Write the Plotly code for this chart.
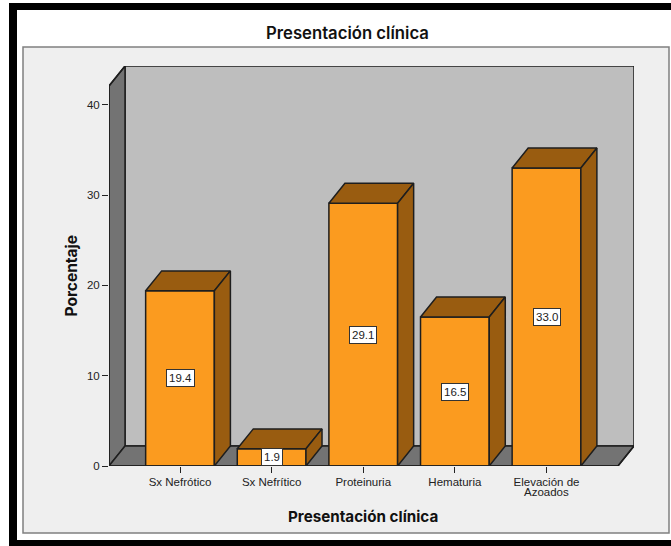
import plotly.graph_objects as go

# Clinical presentation percentages
categories = ["Sx Nefrótico", "Sx Nefrítico", "Proteinuria", "Hematuria", "Elevación de"]
category_second_line = "Azoados"
values = [19.4, 1.9, 29.1, 16.5, 33.0]
y_ticks = [0, 10, 20, 30, 40]

TITLE = "Presentación clínica"
Y_TITLE = "Porcentaje"

W, H = 671, 546
L, R, T, B = 109, 634, 66, 466   # plot area in pixels
X_MIN, X_MAX = -0.775, 4.955
Y_MIN, Y_MAX = 0, 44.3
DX, DY = 0.175, 2.21             # oblique depth in data units
BAR_W = 0.75

ORANGE, BROWN = "#fb9b1f", "#995c10"
WALL, SIDE_WALL = "#bebebe", "#737373"
PANEL, EDGE = "#efefef", "#1e1e1e"
FONT = "Liberation Sans"
HEAD_FONT = "Inter"


def px(x):
    return (x - L) / (R - L)


def py(y):
    return (B - y) / (B - T)


def paper_rect(x0, y0, x1, y1, fill, line=None, width=0):
    return dict(type="rect", xref="paper", yref="paper", layer="below",
                x0=px(x0), x1=px(x1), y0=py(y0), y1=py(y1),
                fillcolor=fill, line=dict(color=line or fill, width=width))


def poly(xs, ys):
    path = "M" + " L".join(f"{a},{b}" for a, b in zip(xs, ys)) + " Z"
    return dict(type="path", xref="x", yref="y", layer="below", path=path,
                line=dict(color=EDGE, width=1.5))


front_r = X_MAX - DX
shapes = [
    paper_rect(9, 3, 680, 546, "#000000"),
    paper_rect(17, 10, 680, 540, "#ffffff"),
    paper_rect(23, 47, 669, 533, PANEL, "#808080", 1.5),
]
shapes.append({**poly([X_MIN + DX, X_MAX, X_MAX, X_MIN + DX], [DY, DY, Y_MAX, Y_MAX]), "fillcolor": WALL})
shapes.append({**poly([X_MIN, X_MIN + DX, X_MIN + DX, X_MIN], [0, DY, Y_MAX, Y_MAX - DY]), "fillcolor": SIDE_WALL})
shapes.append({**poly([X_MIN, front_r, X_MAX, X_MIN + DX], [0, 0, DY, DY]), "fillcolor": SIDE_WALL})

fig = go.Figure()

# Front edges of the left wall and floor sit on the plot boundary, so they are drawn unclipped
fig.add_trace(go.Scatter(
    x=[X_MIN + DX, X_MIN, X_MIN, front_r, X_MAX],
    y=[Y_MAX, Y_MAX - DY, 0, 0, DY],
    mode="lines", line=dict(color=EDGE, width=1.5),
    cliponaxis=False, hoverinfo="skip", showlegend=False))

xs = list(range(len(values)))
fig.add_trace(go.Bar(x=xs, y=values, width=BAR_W, marker=dict(color=ORANGE, line=dict(color=EDGE, width=1.5)),
                     showlegend=False, hoverinfo="skip"))

# Top and side faces of each bar
for i, v in zip(xs, values):
    a, b = i - BAR_W / 2, i + BAR_W / 2
    fig.add_trace(go.Scatter(x=[a, b, b + DX, a + DX, a], y=[v, v, v + DY, v + DY, v],
                             mode="lines", fill="toself", fillcolor=BROWN, line=dict(color=EDGE, width=1.5),
                             hoverinfo="skip", showlegend=False))
    fig.add_trace(go.Scatter(x=[b, b + DX, b + DX, b, b], y=[0, DY, v + DY, v, 0],
                             mode="lines", fill="toself", fillcolor=BROWN, line=dict(color=EDGE, width=1.5),
                             hoverinfo="skip", showlegend=False))

annotations = [
    dict(x=i, y=v / 2, xref="x", yref="y", text=f"{v:.1f}", showarrow=False,
         font=dict(family=FONT, size=11.5, color="#222222"), bgcolor="#ffffff",
         bordercolor="#333333", borderwidth=1, borderpad=2)
    for i, v in zip(xs, values)
]
annotations += [
    dict(x=xs[-1], y=py(492), xref="x", yref="paper", text=category_second_line, showarrow=False,
         xanchor="center", yanchor="middle", font=dict(family=FONT, size=11.5, color="#222222")),
    dict(x=px(347.5), y=py(33), xref="paper", yref="paper", text=TITLE, showarrow=False,
         xanchor="center", yanchor="middle",
         font=dict(family=HEAD_FONT, size=16.7, weight=600, color="#111111")),
    dict(x=px(362.5), y=py(516), xref="paper", yref="paper", text=TITLE, showarrow=False,
         xanchor="center", yanchor="middle",
         font=dict(family=HEAD_FONT, size=15.2, weight=700, color="#111111")),
    dict(x=px(71), y=py(275.5), xref="paper", yref="paper", text=Y_TITLE, showarrow=False,
         xanchor="center", yanchor="middle", textangle=-90,
         font=dict(family=HEAD_FONT, size=15.5, weight=700, color="#111111")),
]

fig.update_layout(
    width=W, height=H, autosize=False,
    margin=dict(l=L, r=W - R, t=T, b=H - B, pad=0),
    paper_bgcolor="#ffffff", plot_bgcolor="rgba(0,0,0,0)",
    shapes=shapes, annotations=annotations, showlegend=False,
    xaxis=dict(range=[X_MIN, X_MAX], tickmode="array", tickvals=xs, ticktext=categories,
               ticks="outside", ticklen=6, tickwidth=1, tickcolor="#222222", showgrid=False,
               zeroline=False, showline=False, tickangle=0, ticklabelstandoff=-1,
               tickfont=dict(family=FONT, size=11.5, color="#222222")),
    yaxis=dict(range=[Y_MIN, Y_MAX], tickmode="array", tickvals=y_ticks,
               ticks="outside", ticklen=6, tickwidth=1, tickcolor="#222222", showgrid=False,
               zeroline=False, showline=False,
               tickfont=dict(family=FONT, size=11.5, color="#222222")),
)

fig.write_html("out.html", config={"displayModeBar": False})
